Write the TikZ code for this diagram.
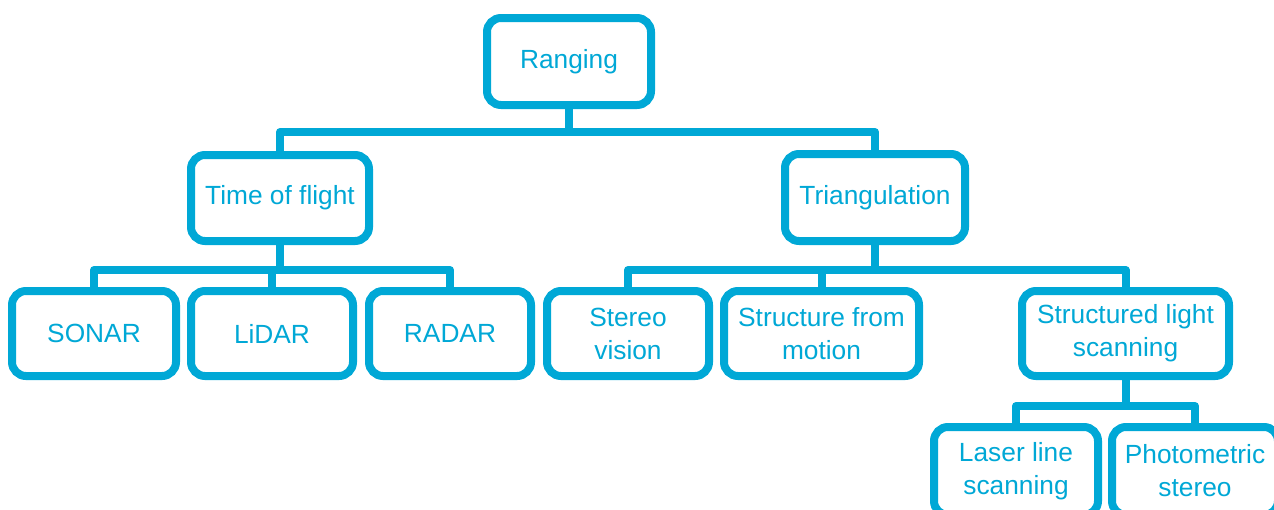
\documentclass[tikz,border=0pt]{standalone}
\usepackage{fontspec}
\setmainfont{Liberation Sans}
\definecolor{rc}{HTML}{00A8D6}
\begin{document}
\begin{tikzpicture}[x=1pt,y=-1pt,
  box/.style={draw=rc, line width=8pt, rounded corners=14pt, fill=white,
    text=rc, align=center, inner sep=0pt,
    font=\fontsize{26.3}{33}\selectfont},
  link/.style={draw=rc, line width=8pt, line join=round}]
\useasboundingbox (0,0) rectangle (1274,509);
% level 0
\node[box, minimum width=164pt, minimum height=87pt] (rng) at (569,61.5) {Ranging};
% level 1
\node[box, minimum width=178pt, minimum height=86pt] (tof) at (280,198) {Time of flight};
\node[box, minimum width=180pt, minimum height=87pt] (tri) at (875,197.5) {Triangulation};
% level 2
\node[box, minimum width=164pt, minimum height=85pt] (sonar) at (94,333.5) {SONAR};
\node[box, minimum width=162pt, minimum height=85pt] (lidar) at (272,333.5) {LiDAR};
\node[box, minimum width=162pt, minimum height=85pt] (radar) at (450,333.5) {RADAR};
\node[box, minimum width=162pt, minimum height=85pt] (stereo) at (628,333.5) {Stereo\\vision};
\node[box, minimum width=195pt, minimum height=85pt] (sfm) at (821.5,333.5) {Structure from\\motion};
\node[box, minimum width=207pt, minimum height=85pt] (sls) at (1125.5,333.5) {Structured light\\scanning};
% level 3 (cut by the lower edge of the picture)
\node[box, minimum width=164pt, minimum height=88pt] (laser) at (1016,471) {Laser line\\scanning};
\node[box, minimum width=166pt, minimum height=88pt] (photo) at (1195,471) {Photometric\\stereo};
% connectors
\foreach \c in {tof,tri}
  \draw[link] (rng.south) -- ++(0,23) -| (\c.north);
\foreach \c in {sonar,lidar,radar}
  \draw[link] (tof.south) -- ++(0,25) -| (\c.north);
\foreach \c in {stereo,sfm,sls}
  \draw[link] (tri.south) -- ++(0,25) -| (\c.north);
\foreach \c in {laser,photo}
  \draw[link] (sls.south) -- ++(0,26) -| (\c.north);
\end{tikzpicture}
\end{document}
